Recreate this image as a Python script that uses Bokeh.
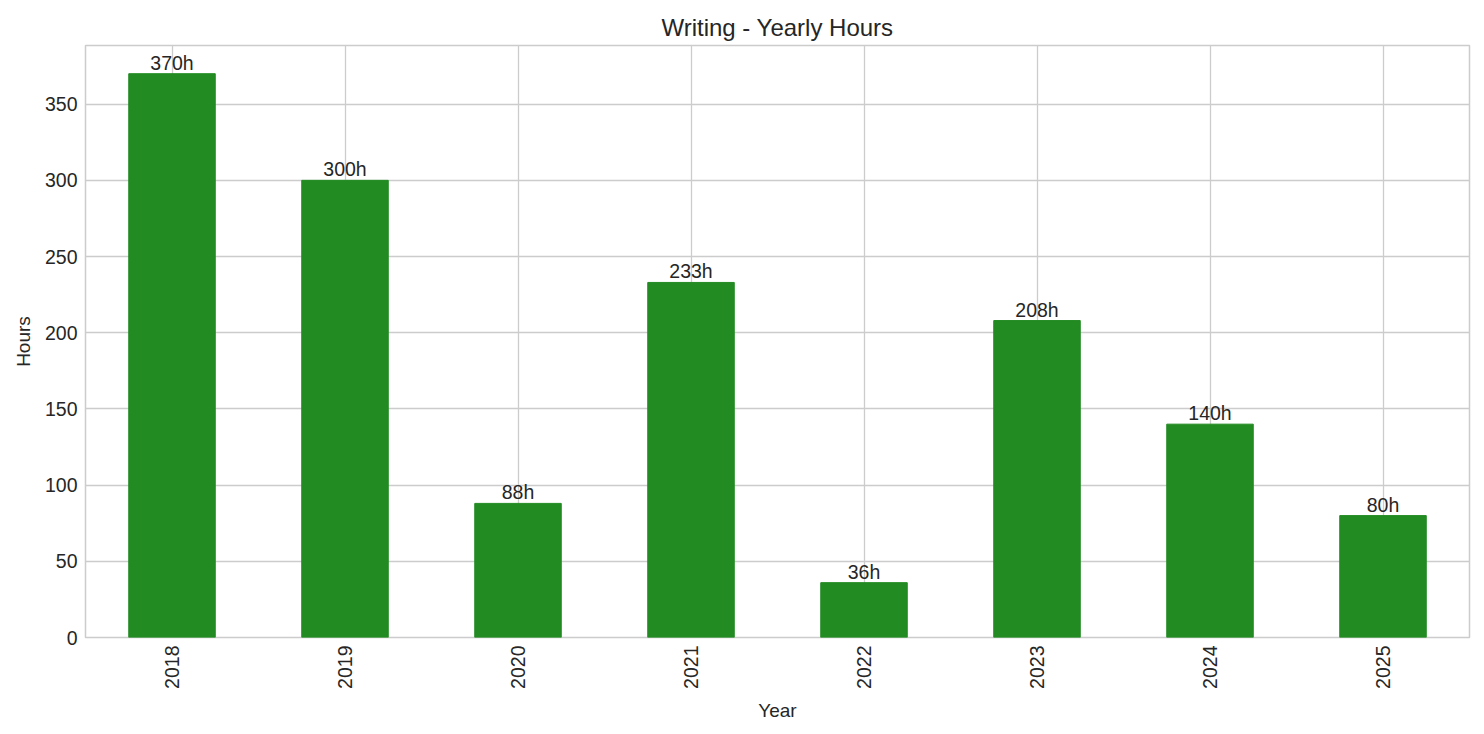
from bokeh.plotting import figure
from bokeh.models import ColumnDataSource, FactorRange, Range1d, LabelSet
from bokeh.core.properties import value
from bokeh.embed import file_html
from bokeh.resources import INLINE
import math

years = ["2018", "2019", "2020", "2021", "2022", "2023", "2024", "2025"]
hours = [370, 300, 88, 233, 36, 208, 140, 80]
labels = [f"{h}h" for h in hours]
yticks = [0, 50, 100, 150, 200, 250, 300, 350]

FONT = "Liberation Sans"
TXT = "#262626"
GRID = "#cccccc"

source = ColumnDataSource(data=dict(year=years, hours=hours, label=labels))

p = figure(x_range=FactorRange(*years, range_padding=0), y_range=Range1d(0, max(hours) * 1.05),
           width=1484, height=734, output_backend="svg", toolbar_location=None,
           title="Writing - Yearly Hours",
           min_border_left=85, min_border_right=15, min_border_top=45, min_border_bottom=97)

p.vbar(x="year", top="hours", width=0.5, source=source, color="#228B22")

labelset = LabelSet(x="year", y="hours", text="label", source=source,
                    text_align="center", text_baseline="bottom",
                    text_font=value(FONT), text_font_size="19.5px", text_color=TXT)
p.add_layout(labelset)

# titel
p.title.align = "center"
p.title.text_font = FONT
p.title.text_font_size = "24px"
p.title.text_font_style = "normal"
p.title.text_color = TXT
p.title.offset = 0

# rahmen und gitter
p.outline_line_color = GRID
p.outline_line_width = 1.5
p.grid.grid_line_color = GRID
p.grid.grid_line_width = 1.3
p.ygrid.ticker = yticks

for ax in (p.xaxis, p.yaxis):
    ax.axis_line_color = None
    ax.major_tick_line_color = None
    ax.minor_tick_line_color = None
    ax.major_tick_out = 0
    ax.major_tick_in = 0
    ax.major_label_standoff = 8
    ax.major_label_text_font = FONT
    ax.major_label_text_font_size = "19.5px"
    ax.major_label_text_color = TXT
    ax.axis_label_text_font = FONT
    ax.axis_label_text_font_size = "19px"
    ax.axis_label_text_font_style = "normal"
    ax.axis_label_text_color = TXT
    ax.axis_label_standoff = 8

p.yaxis.ticker = yticks
p.xaxis.major_label_orientation = math.pi / 2
p.xaxis.axis_label = "Year"
p.yaxis.axis_label = "Hours"

open("out.html", "w").write(file_html(p, INLINE))
